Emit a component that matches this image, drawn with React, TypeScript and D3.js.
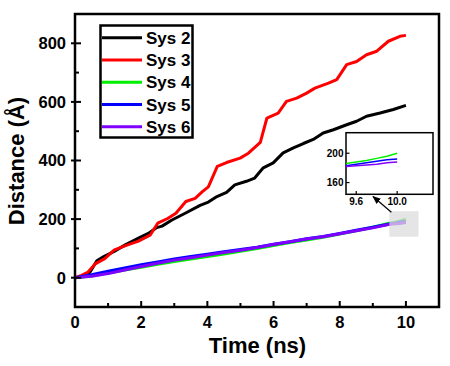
import React from "react";
import * as d3 from "d3";

// ---- data ----
const sys2: [number, number][] = [
  [0, 0], [0.3, 5], [0.46, 20], [0.66, 58], [0.87, 72], [1.17, 89], [1.52, 112], [1.92, 135],
  [2.23, 152], [2.47, 171], [2.63, 176], [2.93, 197], [3.33, 220], [3.78, 247], [4.03, 258],
  [4.29, 277], [4.58, 291], [4.83, 317], [5.18, 329], [5.43, 340], [5.69, 375], [5.99, 392],
  [6.29, 426], [6.6, 443], [6.9, 458], [7.2, 472], [7.5, 494], [7.81, 505], [8.21, 522],
  [8.51, 534], [8.81, 551], [9.22, 562], [9.62, 574], [10, 588],
];

const sys3: [number, number][] = [
  [0, 0], [0.2, 8], [0.38, 18], [0.61, 47], [0.9, 65], [1.19, 95], [1.59, 112], [1.9, 124],
  [2.27, 145], [2.5, 186], [2.8, 202], [3.05, 220], [3.35, 260], [3.63, 271], [3.85, 294],
  [4.03, 310], [4.3, 380], [4.58, 393], [4.99, 408], [5.24, 425], [5.6, 462], [5.8, 545],
  [6.14, 562], [6.39, 602], [6.7, 613], [7.0, 630], [7.25, 647], [7.66, 664], [7.91, 676],
  [8.21, 727], [8.51, 738], [8.81, 761], [9.12, 773], [9.47, 807], [9.82, 824], [10, 827],
];

const lowTime = [0, 0.5, 1, 1.5, 2, 2.5, 3, 3.5, 4, 4.5, 5, 5.5, 6, 6.5, 7, 7.5, 8, 8.5, 9, 9.5, 9.6, 9.7, 9.8, 9.9, 10];
const sys4 = [0, 6, 16, 26, 36, 46, 55, 64, 72, 81, 90, 100, 110, 120, 129, 138, 149, 160, 172, 186, 188, 190, 193, 196, 200];
const sys5 = [0, 10, 22, 33, 44, 54, 64, 72, 80, 89, 96, 104, 114, 123, 133, 141, 151, 162, 172, 183, 185, 187, 189, 191, 192];
const sys6 = [0, 5, 14, 26, 38, 49, 60, 68, 77, 86, 94, 103, 113, 123, 132, 140, 150, 160, 170, 182, 183, 184, 185, 187, 188];

const seriesNames = ["Sys 2", "Sys 3", "Sys 4", "Sys 5", "Sys 6"];
const seriesColors = ["#000000", "#ff0000", "#00ee00", "#0000ff", "#8000ff"];

const xTicks = [0, 2, 4, 6, 8, 10];
const xMinor = [1, 3, 5, 7, 9];
const yTicks = [0, 200, 400, 600, 800];
const yMinor = [-100, 100, 300, 500, 700];
const insetXTicks = [9.6, 10.0];
const insetYTicks = [160, 200];

const W = 450;
const H = 366;
const FONT = "'Liberation Sans', Arial, Helvetica, sans-serif";

export default function App() {
  const x = d3.scaleLinear().domain([0, 11]).range([75, 439]);
  const y = d3.scaleLinear().domain([-100, 900]).range([307, 14]);

  const ix = d3.scaleLinear().domain([9.5, 10.35]).range([346, 433]);
  const iy = d3.scaleLinear().domain([144, 228]).range([194.3, 132.7]);

  const lowSeries = [sys4, sys5, sys6].map((vals) => lowTime.map((t, i) => [t, vals[i]] as [number, number]));
  const allSeries: [number, number][][] = [sys2, sys3, ...lowSeries];

  const line = d3.line<[number, number]>().x((d) => x(d[0])).y((d) => y(d[1]));
  const iline = d3.line<[number, number]>().x((d) => ix(d[0])).y((d) => iy(d[1]));

  // draw order: 2, 3, 4, 5, 6 (violet on top)
  const insetData = lowSeries.map((s) => s.filter((d) => d[0] >= 9.5));

  const rx0 = x(9.5), rx1 = x(10.38), ry0 = y(227), ry1 = y(140);

  return (
    <svg width={W} height={H} style={{ position: "absolute", left: 0, top: 0 }} fontFamily={FONT}>
      <defs>
        <clipPath id="plotClip">
          <rect x={75} y={14} width={364} height={293} />
        </clipPath>
        <clipPath id="insetClip">
          <rect x={ix.range()[0]} y={132.7} width={87} height={61.6} />
        </clipPath>
        <marker id="arrow" viewBox="0 0 10 10" refX="9" refY="5" markerWidth="7" markerHeight="7" orient="auto">
          <path d="M0,1 L10,5 L0,9 Z" fill="#000" />
        </marker>
      </defs>
      <rect width={W} height={H} fill="#fff" />

      {/* series */}
      <g clipPath="url(#plotClip)">
        {allSeries.map((s, i) => (
          <path key={i} d={line(s) || ""} fill="none" stroke={seriesColors[i]} strokeWidth={3} strokeLinejoin="round" />
        ))}
      </g>

      {/* highlight box */}
      <rect x={rx0} y={ry0} width={rx1 - rx0} height={ry1 - ry0} fill="#dcdcdc" fillOpacity={0.75} />

      {/* frame */}
      <rect x={75} y={14} width={364} height={293} fill="none" stroke="#000" strokeWidth={2.5} />

      {/* x ticks */}
      {xTicks.map((t) => (
        <g key={"xt" + t}>
          <line x1={x(t)} x2={x(t)} y1={307} y2={301} stroke="#000" strokeWidth={2} />
          <text x={x(t)} y={328} fontSize={16.5} fontWeight="bold" textAnchor="middle">{t}</text>
        </g>
      ))}
      {xMinor.map((t) => (
        <line key={"xm" + t} x1={x(t)} x2={x(t)} y1={307} y2={303} stroke="#000" strokeWidth={2} />
      ))}

      {/* y ticks */}
      {yTicks.map((t) => (
        <g key={"yt" + t}>
          <line x1={71} x2={81} y1={y(t)} y2={y(t)} stroke="#000" strokeWidth={2} />
          <text x={66} y={y(t)} dy="0.36em" fontSize={16.5} fontWeight="bold" textAnchor="end">{t}</text>
        </g>
      ))}
      {yMinor.map((t) => (
        <line key={"ym" + t} x1={75} x2={79} y1={y(t)} y2={y(t)} stroke="#000" strokeWidth={2} />
      ))}

      {/* axis titles */}
      <text x={257.5} y={353} fontSize={22} fontWeight="bold" textAnchor="middle">Time (ns)</text>
      <text transform="translate(23.5,161) rotate(-90)" fontSize={22} fontWeight="bold" textAnchor="middle">Distance (Å)</text>

      {/* legend */}
      <rect x={100.5} y={25.5} width={92} height={112} fill="#fff" stroke="#000" strokeWidth={2.5} />
      {seriesNames.map((n, i) => {
        const yy = 37.7 + 22.25 * i;
        return (
          <g key={n}>
            <line x1={102} x2={142} y1={yy} y2={yy} stroke={seriesColors[i]} strokeWidth={3} />
            <text x={146} y={yy} dy="0.36em" fontSize={17} fontWeight="bold">{n}</text>
          </g>
        );
      })}

      {/* inset */}
      <rect x={346} y={132.7} width={87} height={61.6} fill="#fff" stroke="#000" strokeWidth={1.5} />
      <g clipPath="url(#insetClip)">
        {insetData.map((s, i) => (
          <path key={i} d={iline(s) || ""} fill="none" stroke={seriesColors[i + 2]} strokeWidth={1.5} />
        ))}
      </g>
      {insetXTicks.map((t) => (
        <g key={"ixt" + t}>
          <line x1={ix(t)} x2={ix(t)} y1={194.3} y2={191} stroke="#000" strokeWidth={1.2} />
          <text x={ix(t)} y={205} fontSize={10} fontWeight="bold" textAnchor="middle">{t.toFixed(1)}</text>
        </g>
      ))}
      {insetYTicks.map((t) => (
        <g key={"iyt" + t}>
          <line x1={346} x2={349.5} y1={iy(t)} y2={iy(t)} stroke="#000" strokeWidth={1.2} />
          <text x={343.5} y={iy(t)} dy="0.36em" fontSize={10} fontWeight="bold" textAnchor="end">{t}</text>
        </g>
      ))}

      {/* arrow */}
      <line x1={rx0 + 2} y1={ry0 + 1} x2={373} y2={196.5} stroke="#000" strokeWidth={1.2} markerEnd="url(#arrow)" />
    </svg>
  );
}
